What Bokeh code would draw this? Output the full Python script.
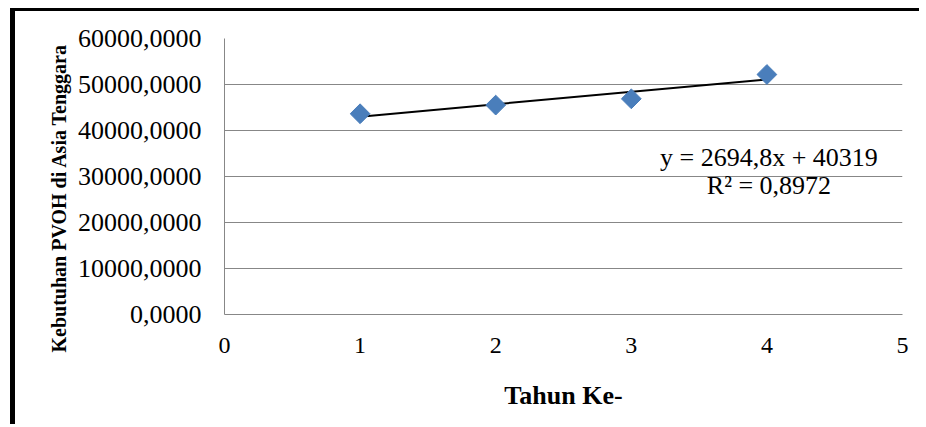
import numpy as np
from bokeh.plotting import figure
from bokeh.models import Range1d, FixedTicker, Label, Title
from bokeh.embed import file_html
from bokeh.resources import INLINE

# ---- data ----
years = [1, 2, 3, 4]
pvoh_demand = [43640, 45520, 46890, 52174]
trend_slope = 2694.8
trend_intercept = 40319
equation_text = "y = 2694,8x + 40319"
r2_text = "R² = 0,8972"
x_ticks = [0, 1, 2, 3, 4, 5]
y_ticks = [0, 10000, 20000, 30000, 40000, 50000, 60000]
y_tick_labels = ["0,0000", "10000,0000", "20000,0000", "30000,0000",
                 "40000,0000", "50000,0000", "60000,0000"]
x_title = "Tahun Ke-"
y_title = "Kebutuhan PVOH di Asia Tenggara"

FONT = "Liberation Serif"
GRID = "#878787"

p = figure(width=909, height=416, output_backend="svg", toolbar_location=None,
           x_range=Range1d(0, 5), y_range=Range1d(0, 60000),
           min_border_left=209, min_border_top=27, min_border_right=22,
           min_border_bottom=113)
p.styles = {"border-left": "5px solid black", "border-top": "3px solid black",
            "margin-left": "10px", "margin-top": "8px"}
p.outline_line_color = None
p.background_fill_color = "white"
p.border_fill_color = "white"

# grid
p.xgrid.grid_line_color = None
p.ygrid.grid_line_color = GRID
p.ygrid.grid_line_width = 1
p.ygrid.ticker = FixedTicker(ticks=y_ticks)

# axes
p.xaxis.ticker = FixedTicker(ticks=x_ticks)
p.yaxis.ticker = FixedTicker(ticks=y_ticks)
p.yaxis.major_label_overrides = {t: l for t, l in zip(y_ticks, y_tick_labels)}
for ax in (p.xaxis[0], p.yaxis[0]):
    ax.axis_line_color = GRID
    ax.axis_line_width = 1
    ax.major_tick_line_color = None
    ax.minor_tick_line_color = None
    ax.major_label_text_font = FONT
    ax.major_label_text_color = "black"
p.xaxis.major_label_text_font_size = "24px"
p.yaxis.major_label_text_font_size = "26px"
p.xaxis.major_label_standoff = 17
p.yaxis.major_label_standoff = 17

p.xaxis.axis_label = x_title
p.xaxis.axis_label_text_font = FONT
p.xaxis.axis_label_text_font_style = "bold"
p.xaxis.axis_label_text_font_size = "26px"
p.xaxis.axis_label_text_color = "black"
p.xaxis.axis_label_standoff = 25

# y title (starts a little below the frame bottom like the reference)
p.add_layout(Title(text=y_title, align="left", offset=-38, standoff=9,
                   text_font=FONT, text_font_style="bold",
                   text_font_size="20px", text_color="black"), "left")

# trendline
trend_x = [min(years), max(years)]
trend_y = [trend_slope * x + trend_intercept for x in trend_x]
p.line(trend_x, trend_y, line_color="black", line_width=2)

# data points (diamonds)
p.scatter(years, pvoh_demand, marker="square", size=14, angle=np.pi / 4,
          fill_color="#4A7EBB", line_color="#4A7EBB")

# equation labels
p.add_layout(Label(x=4.015, y=34120, text=equation_text, text_align="center",
                   text_baseline="alphabetic", text_font=FONT,
                   text_font_size="26px", text_color="black"))
p.add_layout(Label(x=4.015, y=27980, text=r2_text, text_align="center",
                   text_baseline="alphabetic", text_font=FONT,
                   text_font_size="26px", text_color="black"))

open("out.html", "w").write(file_html(p, INLINE))
